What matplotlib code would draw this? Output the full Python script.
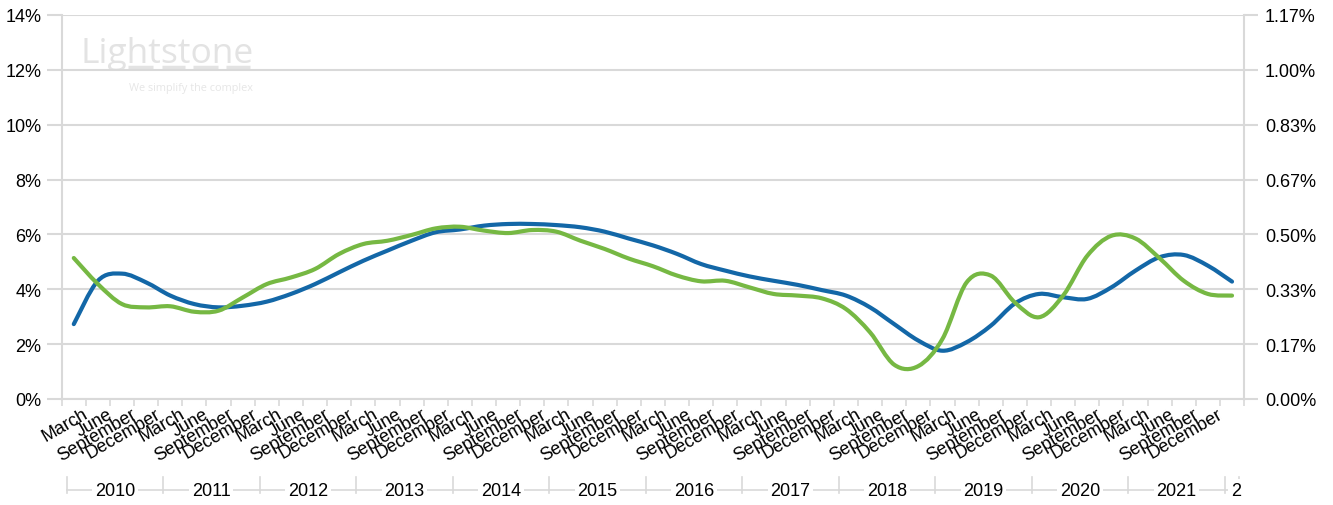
import matplotlib
matplotlib.use("Agg")
import matplotlib.pyplot as plt
from matplotlib.path import Path
from matplotlib.patches import PathPatch
import numpy as np

plt.rcParams['font.family'] = ['Liberation Sans', 'DejaVu Sans']

years = [2010, 2011, 2012, 2013, 2014, 2015, 2016, 2017, 2018, 2019, 2020, 2021, 2022]
quarters = ["March", "June", "September", "December"]
# 2010 Q1 .. 2022 Q1 (last quarter label is not shown in the source)
cat_labels = [q for y in years[:-1] for q in quarters] + [""]
year_labels = [str(y) for y in years[:-1]] + ["2"]

blue = [2.73, 4.31, 4.57, 4.25, 3.77, 3.46, 3.34, 3.40, 3.55, 3.83, 4.19, 4.62,
        5.04, 5.41, 5.77, 6.08, 6.18, 6.32, 6.38, 6.38, 6.34, 6.26, 6.10, 5.85,
        5.60, 5.29, 4.92, 4.68, 4.47, 4.31, 4.16, 3.97, 3.77, 3.34, 2.73, 2.13,
        1.76, 2.07, 2.67, 3.48, 3.83, 3.71, 3.65, 4.07, 4.68, 5.17, 5.25, 4.86,
        4.28]
green = [5.14, 4.19, 3.46, 3.34, 3.38, 3.18, 3.22, 3.70, 4.19, 4.43, 4.74, 5.29,
         5.65, 5.77, 5.98, 6.22, 6.28, 6.14, 6.05, 6.16, 6.10, 5.77, 5.47, 5.12,
         4.84, 4.50, 4.29, 4.31, 4.07, 3.83, 3.77, 3.67, 3.28, 2.43, 1.25, 1.20,
         2.19, 4.25, 4.50, 3.52, 2.98, 3.77, 5.22, 5.95, 5.85, 5.13, 4.31, 3.83,
         3.77]

left_ticks = [0, 2, 4, 6, 8, 10, 12, 14]
grid_c = "#d9d9d9"
fs = 13


def smooth_path(xs, ys):
    # catmull-rom style bezier through the points (like excel's smoothed line)
    pts = np.column_stack([xs, ys])
    n = len(pts)
    verts = [pts[0]]
    codes = [Path.MOVETO]
    for i in range(n - 1):
        p0 = pts[max(i - 1, 0)]
        p1 = pts[i]
        p2 = pts[i + 1]
        p3 = pts[min(i + 2, n - 1)]
        verts += [p1 + (p2 - p0) / 6, p2 - (p3 - p1) / 6, p2]
        codes += [Path.CURVE4] * 3
    return Path(verts, codes)


fig = plt.figure(figsize=(13.33, 5.06), dpi=100)
ax = fig.add_axes([0.0463, 0.2095, 0.887, 0.7589])
x = np.arange(len(blue))

for ys, col in [(blue, "#1367a7"), (green, "#76b843")]:
    ax.add_patch(PathPatch(smooth_path(x, ys), fill=False, edgecolor=col,
                           lw=3.0, capstyle="round", zorder=3))

ax.set_xlim(-0.5, len(blue) - 0.5)
ax.set_ylim(0, 14)
ax.set_yticks(left_ticks)
ax.set_yticklabels([f"{t}%" for t in left_ticks])
ax.grid(axis="y", color=grid_c, lw=1.5)
ax.set_axisbelow(True)
for s in ["top", "bottom"]:
    ax.spines[s].set_visible(False)
for s in ["left", "right"]:
    ax.spines[s].set_color(grid_c)
    ax.spines[s].set_linewidth(1.5)
ax.tick_params(axis="y", length=11, width=1.5, color=grid_c, pad=3.5, labelsize=fs)

# category boundary ticks on x axis
ax.set_xticks(np.arange(-0.5, len(blue), 1.0))
ax.set_xticklabels([])
ax.tick_params(axis="x", length=5, width=1.2, color=grid_c)
ax.axhline(0, color=grid_c, lw=1.5, zorder=1, clip_on=False)

for k, lab in enumerate(cat_labels):
    ax.annotate(lab, xy=(k, 0), xycoords=("data", "axes fraction"),
                xytext=(9, -6), textcoords="offset pixels",
                rotation=30, ha="right", va="top", rotation_mode="anchor",
                fontsize=fs, annotation_clip=False)

# year grouping row
yr_y = -0.237
for j, lab in enumerate(year_labels):
    b0 = -0.3 + 4 * j
    b1 = min(b0 + 4, 48.3)
    ax.plot([b0, b0], [-0.203, -0.245], color=grid_c, lw=1.2,
            transform=ax.get_xaxis_transform(), clip_on=False)
    ax.plot([b0, b1], [yr_y, yr_y], color=grid_c, lw=1.2,
            transform=ax.get_xaxis_transform(), clip_on=False)
    cx = (b0 + b1) / 2 if j < len(year_labels) - 1 else b0 + 0.45
    ax.text(cx, yr_y, lab, ha="center", va="center", fontsize=fs,
            transform=ax.get_xaxis_transform(), clip_on=False,
            bbox=dict(boxstyle="square,pad=0.15", fc="white", ec="none"))
ax.plot([48.3, 48.3], [-0.203, -0.245], color=grid_c, lw=1.2,
        transform=ax.get_xaxis_transform(), clip_on=False)

# secondary axis
ax2 = ax.twinx()
ax2.set_ylim(0, 14 / 12)
right_ticks = [t / 12 for t in left_ticks]
ax2.set_yticks(right_ticks)
ax2.set_yticklabels([f"{t:.2f}%" for t in right_ticks])
for s in ax2.spines.values():
    s.set_visible(False)
ax2.tick_params(axis="y", length=10, width=1.5, color=grid_c, pad=5, labelsize=fs)

# watermark
ax.text(0.0155, 0.878, "Lightstone", transform=ax.transAxes, fontsize=25.5,
        color="#e3e3e3", family="Open Sans", va="baseline", zorder=0)
ax.text(0.0565, 0.81, "We simplify the complex", transform=ax.transAxes,
        fontsize=7.8, color="#e6e6e6", family="Open Sans", va="center", zorder=0)
for a, b in [(128, 153), (162, 185), (193, 218), (226, 250)]:
    ax.plot([(a - 61.7) / 1182, (b - 61.7) / 1182], [0.8646, 0.8646],
            transform=ax.transAxes, color="#e3e3e3", lw=2.5, solid_capstyle="butt",
            zorder=0)

fig.savefig("out.png", dpi=100)
